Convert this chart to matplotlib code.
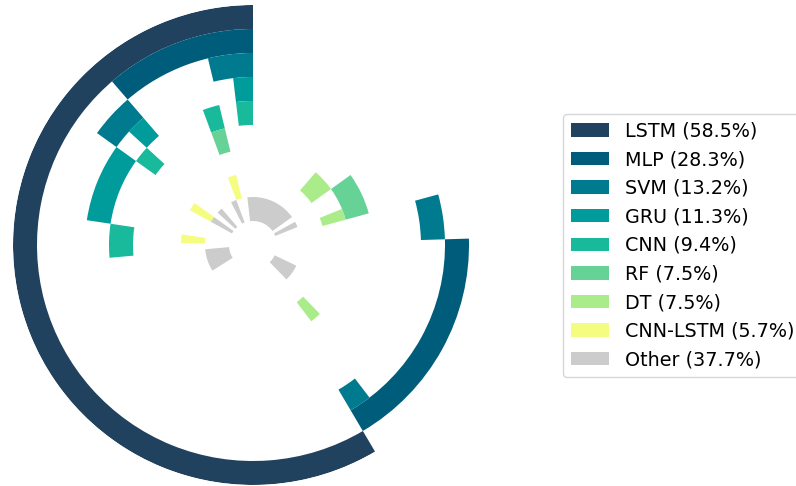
import matplotlib
matplotlib.use("Agg")
import matplotlib.pyplot as plt
import numpy as np
from matplotlib.patches import Patch

# ---- data ----
n_papers = 53
models = ["LSTM", "MLP", "SVM", "GRU", "CNN", "RF", "DT", "CNN-LSTM", "Other"]
percent = [58.5, 28.3, 13.2, 11.3, 9.4, 7.5, 7.5, 5.7, 37.7]
colors = ["#20425f", "#005c7b", "#007a8e", "#009c9b", "#19b99c",
          "#67d296", "#abec8a", "#f4fd80", "#cccccc"]

# paper slots (0..52, counter-clockwise from top) in which each model appears
lstm_idx = [0, 1, 2, 3, 4, 5, 6, 7, 8, 9, 10, 11, 12, 13, 14, 15, 16, 17, 18,
            19, 20, 21, 22, 23, 24, 25, 26, 27, 28, 29, 30]
mlp_idx = [0, 1, 2, 3, 4, 5, 31, 32, 33, 34, 35, 36, 37, 38, 39]
svm_idx = [0, 1, 6, 7, 31, 40, 41]
gru_idx = [0, 6, 8, 9, 10, 11]
cnn_idx = [0, 2, 7, 12, 13]
rf_idx = [2, 42, 43, 44]
dt_idx = [32, 42, 45, 46]
cnnlstm_idx = [2, 8, 12]
other_idx = [0, 3, 6, 8, 14, 15, 16, 17, 33, 34, 35, 43, 45, 46, 47, 48, 49,
             50, 51, 52]

model_slots = [lstm_idx, mlp_idx, svm_idx, gru_idx, cnn_idx, rf_idx, dt_idx,
               cnnlstm_idx, other_idx]

# ---- plot ----
fig = plt.figure(figsize=(7.96, 4.86), dpi=100)
ax = fig.add_axes([13 / 796, 1 / 486, 480 / 796, 480 / 486], projection="polar")
ax.set_theta_zero_location("N")
ax.set_theta_direction(1)
ax.set_ylim(0, 10)
ax.set_axis_off()

step = 2 * np.pi / n_papers
n_models = len(models)


def runs(idx):
    idx = sorted(idx)
    out = []
    start = prev = idx[0]
    for i in idx[1:]:
        if i == prev + 1:
            prev = i
            continue
        out.append((start, prev - start + 1))
        start = prev = i
    out.append((start, prev - start + 1))
    return out


for m, (idx, col) in enumerate(zip(model_slots, colors)):
    ring_bottom = n_models - m
    for start, length in runs(idx):
        ax.bar(start * step, 1, width=length * step, bottom=ring_bottom,
               align="edge", color=col, linewidth=0)

handles = [Patch(facecolor=c, edgecolor="none", label=f"{m} ({p:.1f}%)")
           for m, p, c in zip(models, percent, colors)]
fig.legend(handles=handles, loc="center left",
           bbox_to_anchor=(563 / 796, 0.495), fontsize=13.8, borderaxespad=0,
           handletextpad=0.85, frameon=True)

fig.savefig("out.png", dpi=100)
